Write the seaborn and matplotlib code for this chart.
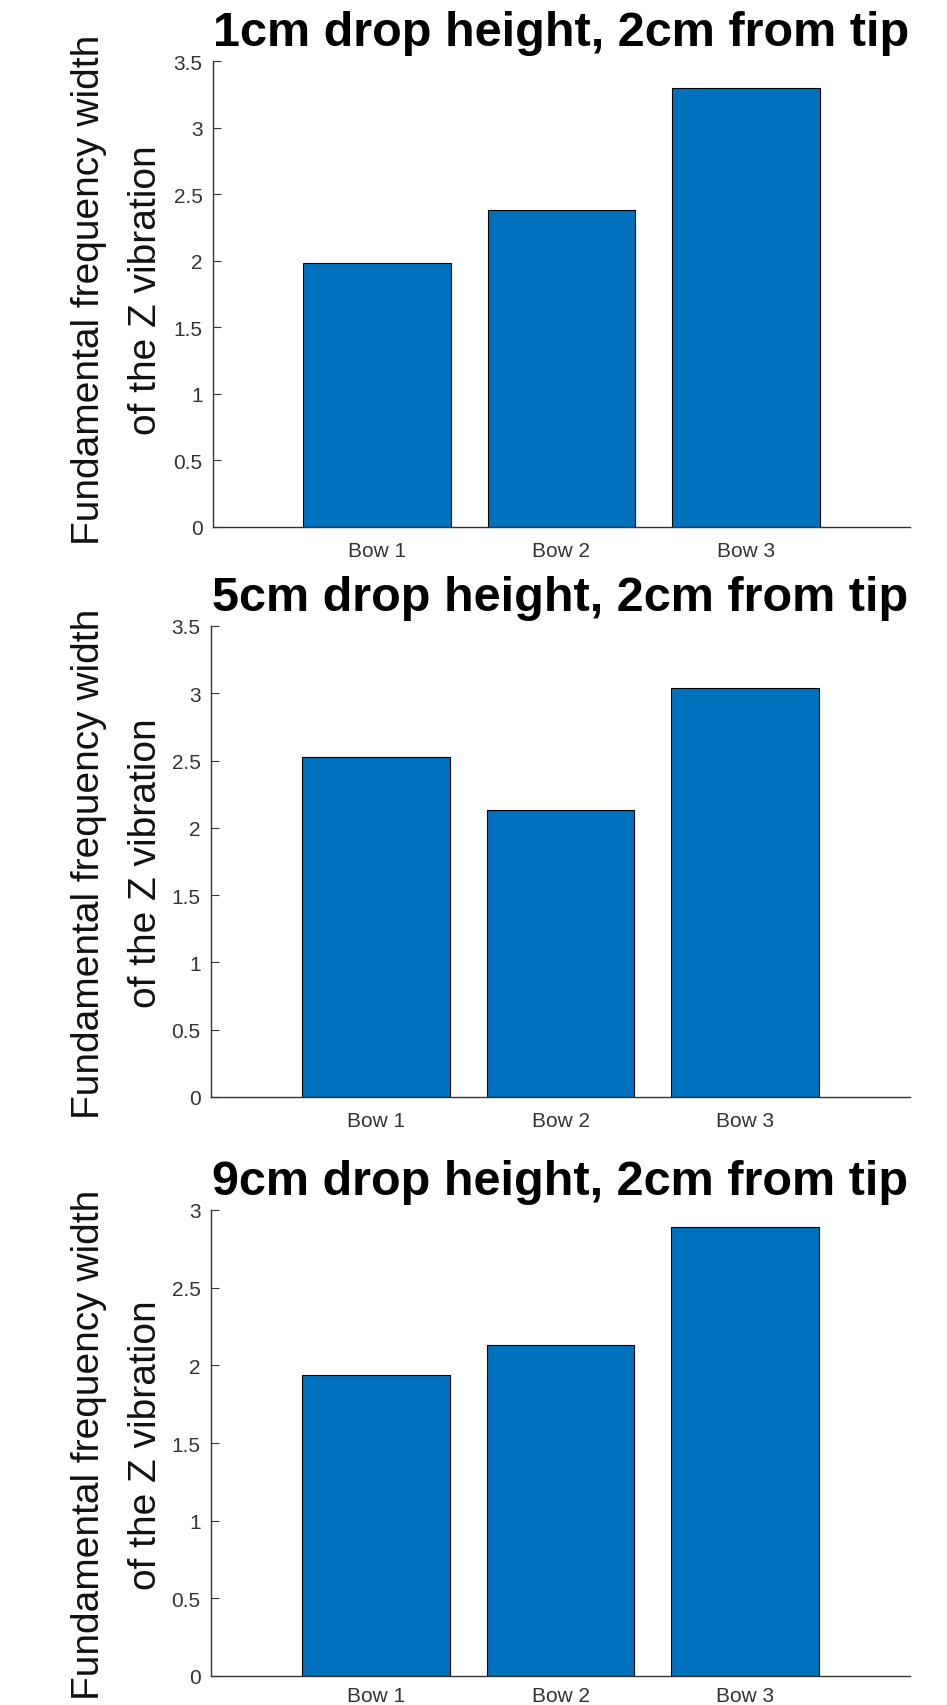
import matplotlib
matplotlib.use("Agg")
import matplotlib.pyplot as plt
import matplotlib.transforms as mtransforms
from matplotlib.ticker import FuncFormatter, MultipleLocator
import seaborn as sns
import pandas as pd

# ---- data ----
categories = ["Bow 1", "Bow 2", "Bow 3"]
vals_1cm = [1.98, 2.38, 3.30]
vals_5cm = [2.53, 2.13, 3.04]
vals_9cm = [1.94, 2.13, 2.89]
titles = ["1cm drop height, 2cm from tip",
          "5cm drop height, 2cm from tip",
          "9cm drop height, 2cm from tip"]
ylims = [3.5, 3.5, 3.0]
ylabel = "Fundamental frequency width\nof the Z vibration"

sns.set_theme(style="white")
plt.rcParams["font.family"] = ["Liberation Sans", "DejaVu Sans"]

W, H = 947, 1706
fig = plt.figure(figsize=(W / 100, H / 100), dpi=100)

# axes boxes in pixels: left, top, right, bottom
boxes = [(213, 62, 910, 528), (211, 627, 910, 1098), (211, 1211, 910, 1677)]
label_yoff = [5, -1, -1]
xpads = [10, 10, 7]

bar_color = "#0072BD"
axis_color = "#333333"

for vals, title, ytop, box, yoff, xpad in zip([vals_1cm, vals_5cm, vals_9cm], titles, ylims,
                                             boxes, label_yoff, xpads):
    l, t, r, b = box
    ax = fig.add_axes([l / W, 1 - b / H, (r - l) / W, (b - t) / H])
    df = pd.DataFrame({"cat": categories, "val": vals})
    sns.barplot(data=df, x="cat", y="val", ax=ax, color=bar_color, saturation=1,
                width=0.8, edgecolor="black", linewidth=0.8, zorder=2)
    ax.set_xlim(-0.89, 2.89)
    ax.set_ylim(0, ytop)
    ax.yaxis.set_major_locator(MultipleLocator(0.5))
    ax.yaxis.set_major_formatter(FuncFormatter(lambda v, p: f"{v:g}"))
    for side in ["top", "right"]:
        ax.spines[side].set_visible(False)
    for side in ["left", "bottom"]:
        ax.spines[side].set_color(axis_color)
        ax.spines[side].set_linewidth(1.0)
    ax.tick_params(axis="y", direction="in", length=5.5, width=0.8, color=axis_color,
                   labelcolor=axis_color, labelsize=15, pad=7.5, left=True)
    ax.tick_params(axis="x", length=0, labelcolor=axis_color, labelsize=15, pad=xpad)
    ax.set_xlabel("")
    ax.set_title(title, fontsize=35, fontweight="bold", color="black", pad=11.5)
    ax.set_ylabel(ylabel, fontsize=28, color="#111111", linespacing=1.75)
    trans = mtransforms.blended_transform_factory(fig.transFigure, ax.transAxes)
    ax.yaxis.set_label_coords(164 / W, 0.5 + yoff / (b - t), transform=trans)
    ax.set_facecolor("white")

fig.savefig("out.png", dpi=100, facecolor="white")
